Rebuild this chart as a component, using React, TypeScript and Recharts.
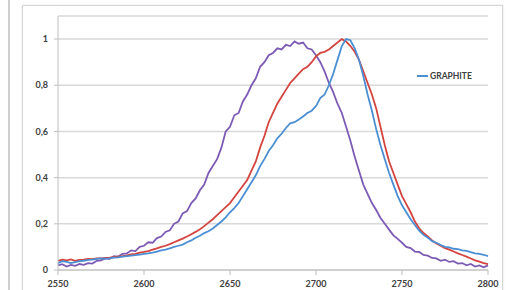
import React from 'react';
import { LineChart, Line, XAxis, YAxis, CartesianGrid } from 'recharts';

// Raman shift (cm-1), sampled every 2.5
const shifts = [
  2550, 2552.5, 2555, 2557.5, 2560, 2562.5, 2565, 2567.5, 2570, 2572.5,
  2575, 2577.5, 2580, 2582.5, 2585, 2587.5, 2590, 2592.5, 2595, 2597.5,
  2600, 2602.5, 2605, 2607.5, 2610, 2612.5, 2615, 2617.5, 2620, 2622.5,
  2625, 2627.5, 2630, 2632.5, 2635, 2637.5, 2640, 2642.5, 2645, 2647.5,
  2650, 2652.5, 2655, 2657.5, 2660, 2662.5, 2665, 2667.5, 2670, 2672.5,
  2675, 2677.5, 2680, 2682.5, 2685, 2687.5, 2690, 2692.5, 2695, 2697.5,
  2700, 2702.5, 2705, 2707.5, 2710, 2712.5, 2715, 2717.5, 2720, 2722.5,
  2725, 2727.5, 2730, 2732.5, 2735, 2737.5, 2740, 2742.5, 2745, 2747.5,
  2750, 2752.5, 2755, 2757.5, 2760, 2762.5, 2765, 2767.5, 2770, 2772.5,
  2775, 2777.5, 2780, 2782.5, 2785, 2787.5, 2790, 2792.5, 2795, 2797.5,
  2800,
];

const graphite = [
  0.03, 0.038, 0.035, 0.03, 0.034, 0.038, 0.04, 0.044, 0.045, 0.048,
  0.05, 0.049, 0.05, 0.054, 0.055, 0.058, 0.06, 0.062, 0.064, 0.067,
  0.07, 0.072, 0.075, 0.08, 0.085, 0.088, 0.094, 0.1, 0.105, 0.11,
  0.12, 0.128, 0.14, 0.148, 0.16, 0.168, 0.18, 0.195, 0.21, 0.228,
  0.25, 0.268, 0.29, 0.32, 0.35, 0.38, 0.41, 0.45, 0.48, 0.515,
  0.54, 0.57, 0.59, 0.615, 0.635, 0.64, 0.652, 0.665, 0.68, 0.69,
  0.71, 0.745, 0.76, 0.8, 0.85, 0.91, 0.97, 1.0, 0.995, 0.96,
  0.91, 0.84, 0.76, 0.69, 0.61, 0.54, 0.48, 0.42, 0.37, 0.32,
  0.28, 0.25, 0.22, 0.195, 0.17, 0.152, 0.14, 0.125, 0.118, 0.108,
  0.1, 0.098, 0.092, 0.09, 0.085, 0.083, 0.077, 0.072, 0.07, 0.066,
  0.06,
];

const red = [
  0.04, 0.045, 0.042, 0.046, 0.04, 0.044, 0.045, 0.048, 0.047, 0.05,
  0.05, 0.052, 0.053, 0.056, 0.058, 0.06, 0.063, 0.068, 0.07, 0.075,
  0.078, 0.082, 0.088, 0.094, 0.1, 0.105, 0.112, 0.12, 0.128, 0.136,
  0.145, 0.155, 0.165, 0.176, 0.19, 0.205, 0.22, 0.238, 0.255, 0.272,
  0.29, 0.315, 0.34, 0.365, 0.39, 0.43, 0.47, 0.53, 0.58, 0.64,
  0.68, 0.72, 0.75, 0.78, 0.81, 0.83, 0.85, 0.87, 0.88, 0.9,
  0.925, 0.94, 0.945, 0.955, 0.97, 0.985, 1.0, 0.99, 0.97, 0.945,
  0.91, 0.86, 0.81, 0.76, 0.7, 0.62, 0.54, 0.47, 0.42, 0.37,
  0.32, 0.285, 0.25, 0.21, 0.18, 0.16, 0.145, 0.128, 0.115, 0.105,
  0.095, 0.088, 0.08, 0.072, 0.065, 0.058, 0.05, 0.042, 0.036, 0.03,
  0.025,
];

const violet = [
  0.02, 0.025, 0.015, 0.022, 0.018, 0.026, 0.022, 0.03, 0.028, 0.04,
  0.042, 0.05, 0.048, 0.06, 0.058, 0.07, 0.072, 0.085, 0.082, 0.1,
  0.105, 0.12, 0.118, 0.138, 0.145, 0.165, 0.172, 0.2, 0.21, 0.245,
  0.255, 0.29, 0.31, 0.345, 0.37, 0.42, 0.45, 0.48, 0.53, 0.6,
  0.62, 0.67, 0.68, 0.73, 0.76, 0.8, 0.83, 0.88, 0.9, 0.93,
  0.94, 0.96, 0.955, 0.975, 0.97, 0.99, 0.98, 0.985, 0.96, 0.955,
  0.93, 0.9, 0.86, 0.81, 0.77, 0.72, 0.68, 0.62, 0.56, 0.49,
  0.43, 0.37, 0.33, 0.29, 0.26, 0.225, 0.2, 0.175, 0.15, 0.135,
  0.118, 0.1, 0.095, 0.08, 0.078, 0.065, 0.062, 0.052, 0.05, 0.04,
  0.045, 0.035, 0.038, 0.028, 0.03, 0.02, 0.026, 0.015, 0.02, 0.012,
  0.02,
];

const xTicks = [2550, 2600, 2650, 2700, 2750, 2800];
const yTicks = [0, 0.2, 0.4, 0.6, 0.8, 1];

const data = shifts.map((s, i) => ({
  shift: s,
  graphite: graphite[i],
  red: red[i],
  violet: violet[i],
}));

const FONT = 'Lato, "Open Sans", sans-serif';
const fmtY = (v: number) => String(v).replace('.', ',');

export default function App() {
  return (
    <div style={{ position: 'absolute', left: 0, top: 0, width: 508, height: 290, overflow: 'hidden', background: '#fff' }}>
      <div style={{ position: 'absolute', left: 8, top: 0, width: 2, height: 290, background: '#cfcfcf' }} />
      <div style={{ position: 'absolute', left: 22, top: 5, width: 479, height: 300, border: '1px solid #d6d6d6', boxShadow: '0 0 2px rgba(0,0,0,0.12)' }} />
      <div style={{ position: 'absolute', left: 0, top: 0 }}>
        <LineChart width={508} height={290} data={data} margin={{ top: 16, right: 20, left: 0, bottom: 0 }}>
          <CartesianGrid vertical={false} stroke="#d9d9d9" strokeWidth={1.5} />
          <XAxis
            dataKey="shift"
            type="number"
            domain={[2550, 2800]}
            ticks={xTicks}
            height={20}
            tickSize={5}
            tickMargin={6}
            stroke="#bfbfbf"
            tick={{ fill: '#404040', fontSize: 9, fontWeight: 700, fontFamily: FONT }}
          />
          <YAxis
            type="number"
            domain={[0, 1.1]}
            ticks={yTicks}
            width={58}
            tickSize={4}
            tickMargin={6}
            stroke="#bfbfbf"
            tickFormatter={fmtY}
            tick={{ fill: '#404040', fontSize: 9, fontWeight: 700, fontFamily: FONT }}
          />
          <Line dataKey="violet" stroke="#7d5bb5" strokeWidth={1.8} dot={false} isAnimationActive={false} />
          <Line dataKey="red" stroke="#d4443e" strokeWidth={1.8} dot={false} isAnimationActive={false} />
          <Line dataKey="graphite" name="GRAPHITE" stroke="#4a8fd3" strokeWidth={1.8} dot={false} isAnimationActive={false} />
        </LineChart>
      </div>
      <div style={{ position: 'absolute', left: 417, top: 71, display: 'flex', alignItems: 'center', fontFamily: FONT, fontWeight: 700, fontSize: 8.5, color: '#404040' }}>
        <span style={{ display: 'inline-block', width: 11, height: 2, background: '#4a8fd3', marginRight: 2 }} />
        GRAPHITE
      </div>
    </div>
  );
}
